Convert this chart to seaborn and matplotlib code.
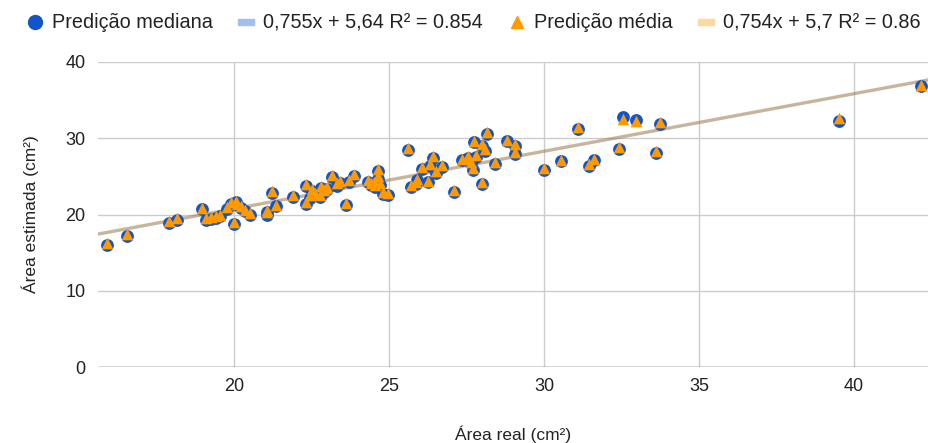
import matplotlib
matplotlib.use("Agg")
import matplotlib.pyplot as plt
import seaborn as sns
import numpy as np
import pandas as pd
from matplotlib.lines import Line2D

# ---- data ----
area_real = [15.88, 16.55, 17.9, 18.15, 18.95, 19.1, 19.25, 19.4, 19.55, 19.75,
             19.9, 20.05, 20.0, 20.1, 20.2, 20.35, 20.5, 21.05, 21.05, 21.2,
             21.35, 21.9, 22.3, 22.3, 22.5, 22.45, 22.6, 22.75, 22.8, 22.95,
             22.9, 23.0, 23.15, 23.3, 23.4, 23.6, 23.7, 23.85, 24.3, 24.4,
             24.5, 24.55, 24.65, 24.65, 24.7, 24.8, 24.95, 25.6, 25.7, 25.85,
             25.9, 26.05, 26.25, 26.3, 26.4, 26.5, 26.7, 27.1, 27.35, 27.5,
             27.55, 27.65, 27.7, 27.8, 27.75, 28.0, 28.1, 28.0, 28.15, 28.4,
             28.8, 29.05, 29.05, 30.0, 30.55, 31.1, 31.45, 31.6, 32.4, 32.55,
             32.95, 33.6, 33.75, 39.5, 42.15]
pred_mediana = [16.0, 17.2, 18.95, 19.3, 20.7, 19.3, 19.45, 19.6, 19.75, 20.75,
                21.4, 21.6, 18.75, 21.2, 20.9, 20.4, 20.0, 20.35, 20.0, 22.85,
                21.1, 22.3, 23.8, 21.4, 23.1, 22.2, 22.6, 22.3, 23.5, 23.2,
                23.0, 23.4, 24.95, 23.8, 24.1, 21.3, 24.3, 25.1, 24.3, 23.9,
                24.1, 23.6, 25.7, 24.7, 23.9, 22.7, 22.6, 28.5, 23.6, 24.0,
                24.5, 26.0, 24.2, 26.4, 27.4, 25.5, 26.2, 22.9, 27.1, 27.2,
                27.4, 26.7, 25.8, 27.6, 29.5, 24.0, 28.3, 29.0, 30.6, 26.6,
                29.6, 29.0, 27.9, 25.9, 27.0, 31.2, 26.4, 27.1, 28.6, 32.8,
                32.4, 28.1, 31.9, 32.2, 36.8]
pred_media = [16.2, 17.4, 19.1, 19.5, 20.9, 19.5, 19.7, 19.8, 19.95, 20.95,
              21.6, 21.8, 19.0, 21.4, 21.1, 20.6, 20.25, 20.55, 20.3, 23.05,
              21.3, 22.5, 24.0, 21.65, 23.35, 22.5, 22.85, 22.55, 23.75, 23.45,
              23.25, 23.6, 25.15, 24.1, 24.35, 21.55, 24.55, 25.35, 24.5, 24.15,
              24.3, 23.85, 25.95, 25.0, 24.15, 22.95, 22.85, 28.7, 23.85, 24.2,
              24.7, 26.25, 24.45, 26.6, 27.65, 25.75, 26.45, 23.15, 27.3, 27.4,
              27.65, 26.95, 26.1, 27.85, 29.7, 24.25, 28.55, 29.25, 30.85, 26.85,
              29.8, 29.25, 28.15, 26.15, 27.2, 31.45, 26.6, 27.3, 28.8, 32.55,
              32.2, 28.35, 32.15, 32.7, 36.95]

trend_slope = [0.755, 0.754]
trend_intercept = [5.64, 5.7]
legend_labels = ["Predição mediana", "0,755x + 5,64 R² = 0.854",
                 "Predição média", "0,754x + 5,7 R² = 0.86"]
x_ticks = [20, 25, 30, 35, 40]
y_ticks = [0, 10, 20, 30, 40]

BLUE = "#1155cc"
ORANGE = "#ff9900"

sns.set_theme(style="white")
plt.rcParams["font.family"] = ["Liberation Sans", "DejaVu Sans"]

fig = plt.figure(figsize=(9.29, 4.43), dpi=100)
ax = fig.add_axes([98 / 929, 1 - 367 / 443, 1 - 98 / 929, (367 - 62) / 443])

xmin, xmax = 15.6, 42.42
ax.set_xlim(xmin, xmax)
ax.set_ylim(0, 40)

# grid
for xv in x_ticks:
    ax.axvline(xv, color="#cccccc", lw=1, zorder=0)
for yv in y_ticks[1:]:
    ax.axhline(yv, color="#cccccc", lw=1, zorder=0)
ax.axhline(0, color="#333333", lw=1, zorder=1)

df = pd.DataFrame({"real": area_real, "mediana": pred_mediana, "media": pred_media})

sns.scatterplot(data=df, x="real", y="mediana", ax=ax, color=BLUE, marker="o",
                s=85, linewidth=0, zorder=3, legend=False)
sns.scatterplot(data=df, x="real", y="media", ax=ax, color=ORANGE, marker="^",
                s=70, linewidth=0, zorder=4, legend=False)

xs = np.array([xmin, xmax])
for m, b, c in zip(trend_slope, trend_intercept, [BLUE, ORANGE]):
    sns.lineplot(x=xs, y=m * xs + b, ax=ax, color=c, alpha=0.35, lw=2.3,
                 zorder=2, legend=False)

for s in ax.spines.values():
    s.set_visible(False)
ax.set_xticks(x_ticks)
ax.set_yticks(y_ticks)
ax.tick_params(axis="both", length=0, labelsize=13, colors="#222222")
ax.tick_params(axis="x", pad=8)
ax.tick_params(axis="y", pad=9)
ax.set_xlabel("Área real (cm²)", fontsize=12.5, color="#222222", labelpad=22)
ax.set_ylabel("Área estimada (cm²)", fontsize=12.5, color="#222222", labelpad=19)

rect = [(-1, -0.42), (1, -0.42), (1, 0.42), (-1, 0.42), (-1, -0.42)]
handles = [
    Line2D([], [], marker="o", color=BLUE, linestyle="none", markersize=10),
    Line2D([], [], marker=rect, color="#a3bff0", linestyle="none", markersize=11),
    Line2D([], [], marker="^", color=ORANGE, linestyle="none", markersize=9),
    Line2D([], [], marker=rect, color="#fdd9a0", linestyle="none", markersize=11),
]
fig.legend(handles, legend_labels, loc="center", bbox_to_anchor=(0.51, 1 - 23 / 443),
           ncol=4, frameon=False, fontsize=14.3, handlelength=0.8, handletextpad=0.45,
           columnspacing=1.3, labelcolor="#222222")

fig.savefig("out.png", dpi=100)
